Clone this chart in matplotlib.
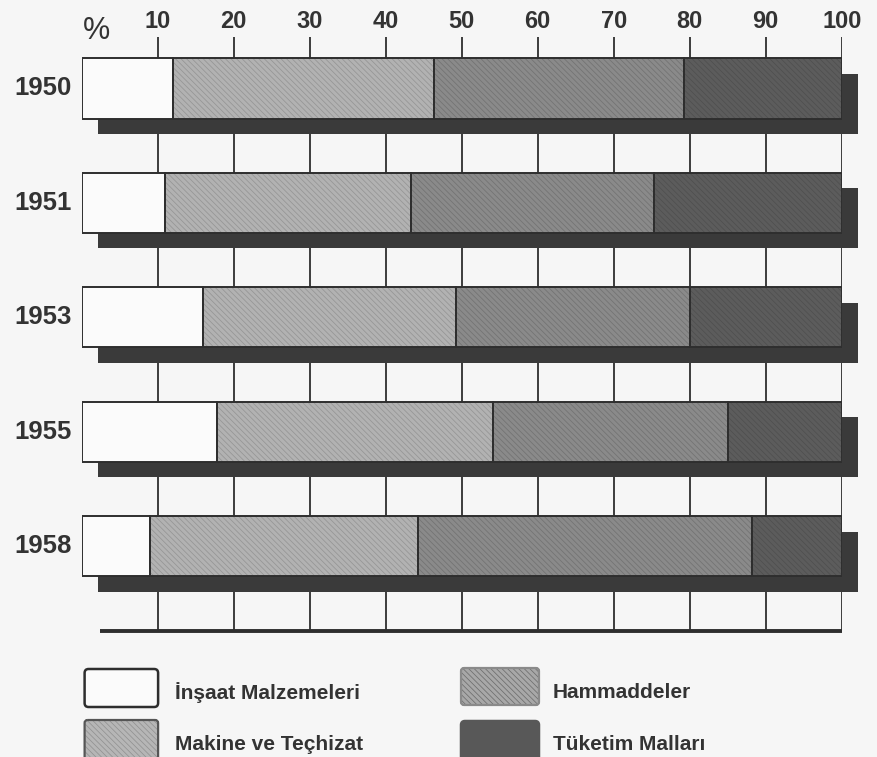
import matplotlib
matplotlib.use("Agg")
import matplotlib.pyplot as plt
from matplotlib.patches import FancyBboxPatch

# Share of each import group per year (%)
years = ["1950", "1951", "1953", "1955", "1958"]
insaat = [12.0, 11.0, 16.0, 17.8, 9.0]
makine = [34.4, 32.3, 33.2, 36.3, 35.3]
hammadde = [32.9, 32.0, 30.9, 30.9, 43.9]
tuketim = [20.7, 24.7, 19.9, 15.0, 11.8]

tick_values = [10, 20, 30, 40, 50, 60, 70, 80, 90, 100]
series_labels = ["İnşaat Malzemeleri", "Makine ve Teçhizat", "Hammaddeler", "Tüketim Malları"]

# styling
paper = "#f6f6f6"
ink = "#2e2e2e"
text_col = "#333333"
fills = ["#fbfbfb", "#b2b2b2", "#8a8a8a", "#5c5c5c"]
hatch_cols = [None, "#959595", "#727272", "#4f4f4f"]
shadow_col = "#3a3a3a"
font = ["Liberation Sans", "DejaVu Sans"]
plt.rcParams["hatch.linewidth"] = 0.55

W, H = 877, 757
fig = plt.figure(figsize=(W / 100, H / 100), dpi=100, facecolor=paper)

# chart area: x in percent, y in bar index (top to bottom)
y_top, y_bot = -0.45, 4.742
ax = fig.add_axes([81.7 / W, (H - 631) / H, 760 / W, 594 / H])
ax.set_xlim(0, 100)
ax.set_ylim(y_bot, y_top)
ax.axis("off")

pos = list(range(len(years)))
bar_h = 0.525
shadow_dx, shadow_dy = 2.1, 0.135

# scale lines behind the bars
ax.vlines(tick_values, y_top, y_bot, color=ink, lw=1.3, zorder=1)
ax.hlines(y_bot, 2.4, 100, color=ink, lw=2.8, zorder=1, clip_on=False)

series = [insaat, makine, hammadde, tuketim]
totals = [sum(v) for v in zip(*series)]

# drop shadow of each bar
ax.barh([p + shadow_dy for p in pos], totals, left=shadow_dx, height=bar_h,
        color=shadow_col, lw=0, zorder=2, clip_on=False)

left = [0.0] * len(years)
for vals, fc, hc in zip(series, fills, hatch_cols):
    if hc is None:
        ax.barh(pos, vals, left=left, height=bar_h, color=fc, lw=0, zorder=3)
    else:
        ax.barh(pos, vals, left=left, height=bar_h, facecolor=fc, edgecolor=hc,
                hatch="\\" * 6, lw=0, zorder=3)
    ax.barh(pos, vals, left=left, height=bar_h, fill=False, edgecolor=ink,
            lw=1.4, zorder=4)
    left = [a + b for a, b in zip(left, vals)]

# scale labels
for v in tick_values:
    ax.text(v, -0.586, str(v), ha="center", va="center", fontsize=17,
            fontweight="bold", color=text_col, family=font)
fig.text(96.5 / W, 1 - 31 / H, "%", ha="center", va="center", fontsize=22,
         color=text_col, family=font)

# year labels
for p, yr in zip(pos, years):
    ax.text(-1.28, p, yr, ha="right", va="center", fontsize=18.5,
            fontweight="bold", color=text_col, family=font)

# legend
lg = fig.add_axes([0, 0, 1, 1])
lg.set_xlim(0, W)
lg.set_ylim(H, 0)
lg.axis("off")

entries = [
    (84.6, 669, 73.5, 38, 175, 693),
    (84.6, 720, 73.5, 42, 175, 744),
    (461, 668, 78, 37, 553, 693),
    (461, 721, 78, 42, 553, 744),
]
legend_fills = ["#fbfbfb", "#b6b6b6", "#a8a8a8", "#585858"]
legend_hatch = [None, "#929292", "#6e6e6e", None]
legend_edges = [ink, "#555555", "#8a8a8a", "#585858"]
for (bx, by, bw, bh, tx, ty), lab, fc, hc, ec in zip(entries, series_labels,
                                                    legend_fills, legend_hatch, legend_edges):
    if hc is not None:
        lg.add_patch(FancyBboxPatch((bx, by), bw, bh, boxstyle="round,pad=0,rounding_size=3",
                                    facecolor=fc, edgecolor=hc, hatch="\\" * 6, lw=0,
                                    clip_on=False))
        lg.add_patch(FancyBboxPatch((bx, by), bw, bh, boxstyle="round,pad=0,rounding_size=3",
                                    fill=False, edgecolor=ec, lw=1.6, clip_on=False))
    else:
        lg.add_patch(FancyBboxPatch((bx, by), bw, bh, boxstyle="round,pad=0,rounding_size=4",
                                    facecolor=fc, edgecolor=ec, lw=1.8, clip_on=False))
    lg.text(tx, ty, lab, ha="left", va="center", fontsize=15, fontweight="bold",
            color=text_col, family=font)

fig.savefig("out.png", dpi=100, facecolor=paper)
